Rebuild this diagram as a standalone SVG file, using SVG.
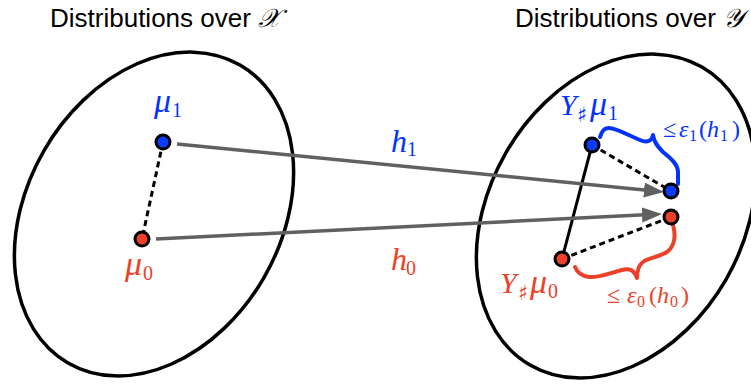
<svg xmlns="http://www.w3.org/2000/svg" width="751" height="385" viewBox="0 0 751 385">
<style>
.title{font-family:"Liberation Sans",Arial,sans-serif;font-size:26px;fill:#000}
.cal{font-family:"DejaVu Serif","DejaVu Sans","Noto Sans",serif;font-style:italic}
.m{font-family:"Liberation Serif","DejaVu Serif",serif;font-style:italic;font-size:30px}
.mu{font-size:34px}
.ms{font-family:"Liberation Serif","DejaVu Serif",serif;font-style:italic;font-size:24px}
.sub{font-style:normal;font-size:20px}
.subs{font-style:normal;font-size:16px}
.up{font-style:normal}
.sharp{font-family:"DejaVu Serif","DejaVu Sans",serif;font-style:normal;font-size:21px}
.blue{fill:#0433ff}
.red{fill:#ec4028}
.space{fill:none;stroke:#000;stroke-width:3.5}
.dot{stroke:#000;stroke-width:3}
.dash{fill:none;stroke:#000;stroke-width:3;stroke-dasharray:6 4}
.solid{fill:none;stroke:#000;stroke-width:3}
.arrow{fill:none;stroke:#606060;stroke-width:3.5}
.brace{fill:none;stroke-width:4;stroke-linecap:round;stroke-linejoin:round}
</style>
<defs>
<marker id="ah" markerUnits="userSpaceOnUse" markerWidth="22" markerHeight="16" refX="8" refY="7.5" orient="auto">
<path d="M0,0 L20,7.5 L0,15 z" fill="#606060"/>
</marker>
</defs>

<g id="title-x"><text class="title" x="50" y="27">Distributions over <tspan class="cal">𝒳</tspan></text></g>
<g id="title-y"><text class="title" x="515" y="27">Distributions over <tspan class="cal">𝒴</tspan></text></g>

<g id="space-x"><ellipse class="space" cx="154" cy="214" rx="172" ry="127" transform="rotate(-60 154 214)"/></g>
<g id="space-y"><ellipse class="space" cx="616" cy="216" rx="172" ry="127" transform="rotate(-60 616 216)"/></g>

<g id="connectors">
<line class="dash" x1="163" y1="142" x2="142" y2="239"/>
<line class="solid" x1="592" y1="145" x2="562" y2="259"/>
<line class="dash" x1="592" y1="145" x2="671" y2="191"/>
<line class="dash" x1="562" y1="259" x2="671" y2="217"/>
<line class="arrow" x1="177" y1="144" x2="652" y2="190.8" marker-end="url(#ah)"/>
<line class="arrow" x1="156" y1="239" x2="650" y2="214.6" marker-end="url(#ah)"/>
<path class="brace" stroke="#0433ff" d="M600,137 C602,131 604,128 609,128 C616,128 630,136 640,140 C647,143 652,141 653,135 C654,142 657,146 663,152 C670,158 678,164 678,172 L678,184"/>
<path class="brace" stroke="#ec4028" d="M673,225 C676,235 675,246 667,252 C659,257 648,258 643,262 C639,265 637,271 637,278 C634,270 630,268 622,270 C610,273 598,278 589,277 C582,276 577,272 575,267"/>
</g>

<g id="mu1"><circle class="dot" cx="163" cy="142" r="7" fill="#0a3cff"/>
<text class="m blue"><tspan class="mu" x="154" y="112">μ</tspan><tspan class="sub" x="172" y="117">1</tspan></text></g>
<g id="mu0"><circle class="dot" cx="142" cy="239" r="7" fill="#ec4028"/>
<text class="m red"><tspan class="mu" x="125" y="275">μ</tspan><tspan class="sub" x="143" y="280">0</tspan></text></g>

<g id="push-mu1"><circle class="dot" cx="592" cy="145" r="7" fill="#0a3cff"/>
<text class="m blue"><tspan x="560" y="115">Y</tspan><tspan class="sharp" x="577" y="122">♯</tspan><tspan class="mu" x="590" y="115">μ</tspan><tspan class="sub" x="608" y="120">1</tspan></text></g>
<g id="push-mu0"><circle class="dot" cx="562" cy="259" r="7" fill="#ec4028"/>
<text class="m red"><tspan x="500" y="293">Y</tspan><tspan class="sharp" x="518" y="300">♯</tspan><tspan class="mu" x="530" y="293">μ</tspan><tspan class="sub" x="548" y="298">0</tspan></text></g>

<g id="h1-target"><circle class="dot" cx="671" cy="191" r="7" fill="#0a3cff"/></g>
<g id="h0-target"><circle class="dot" cx="671" cy="217" r="7" fill="#ec4028"/></g>

<g id="label-h1"><text class="m blue"><tspan x="391" y="152" style="font-size:32px">h</tspan><tspan class="sub" x="407" y="156">1</tspan></text></g>
<g id="label-h0"><text class="m red"><tspan x="391" y="270" style="font-size:32px">h</tspan><tspan class="sub" x="406" y="275">0</tspan></text></g>

<g id="bound1"><text class="ms blue"><tspan class="up" x="663" y="137">≤</tspan><tspan x="679" y="137">ε</tspan><tspan class="subs" x="689" y="141">1</tspan><tspan class="up" x="699" y="137">(</tspan><tspan x="707" y="137">h</tspan><tspan class="subs" x="720" y="141">1</tspan><tspan class="up" x="732" y="137">)</tspan></text></g>
<g id="bound0"><text class="ms red"><tspan class="up" x="607" y="303">≤</tspan><tspan x="627" y="303">ε</tspan><tspan class="subs" x="637" y="307">0</tspan><tspan class="up" x="649" y="303">(</tspan><tspan x="657" y="303">h</tspan><tspan class="subs" x="670" y="307">0</tspan><tspan class="up" x="681" y="303">)</tspan></text></g>
</svg>
